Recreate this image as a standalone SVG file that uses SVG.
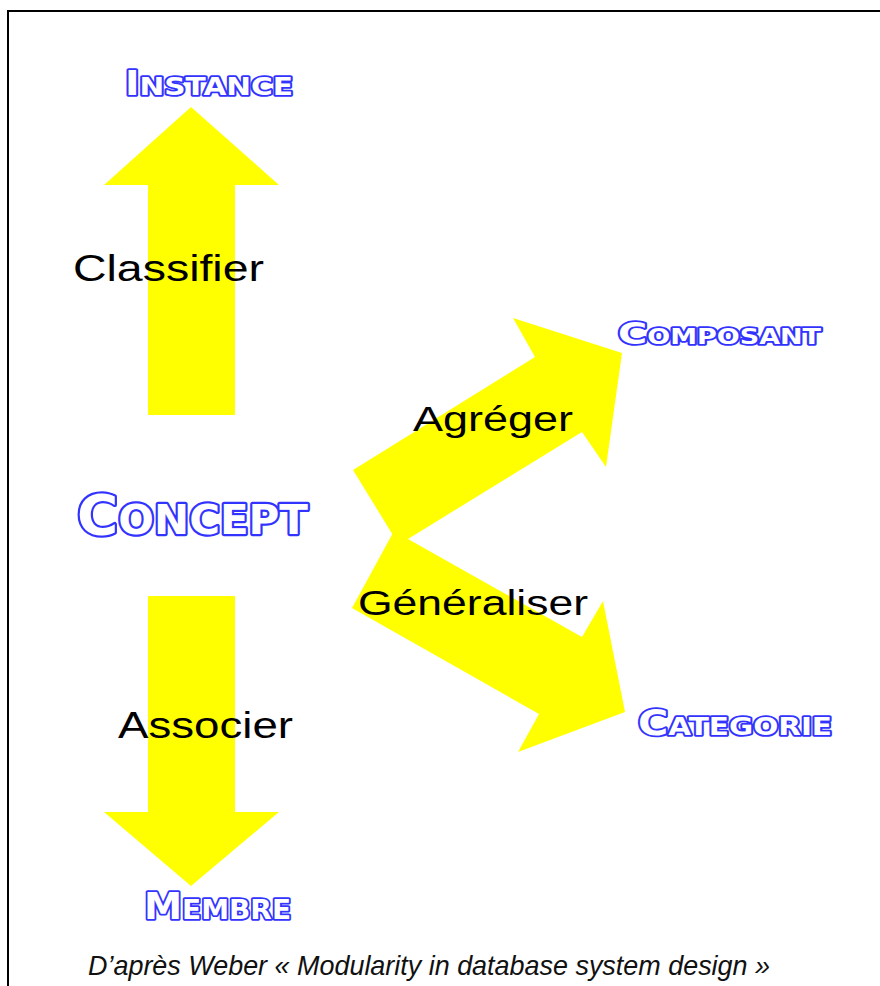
<svg xmlns="http://www.w3.org/2000/svg" width="880" height="986" viewBox="0 0 880 986">
<style>
.arrow{fill:#ffff00;stroke:none}
.title{font-family:"DejaVu Sans","Liberation Sans",sans-serif;font-weight:bold;fill:#ffffff;stroke:#3333ff;stroke-width:3.6;stroke-linejoin:round;paint-order:stroke fill}
.big{stroke-width:4.4}
.label{font-family:"Liberation Sans","DejaVu Sans",sans-serif;fill:#000000}
.foot{font-family:"Liberation Sans","DejaVu Sans",sans-serif;font-style:italic;font-size:28px;fill:#111111}
</style>
<rect x="8" y="11" width="900" height="1000" fill="#ffffff" stroke="#000000" stroke-width="2"/>
<g id="connectors">
  <polygon id="arrow-classifier" class="arrow" points="148,415 235,415 235,185 279,185 191,107 104,185 148,185"/>
  <polygon id="arrow-associer" class="arrow" points="148,596 235,596 235,812 279,812 191,886 104,812 148,812"/>
  <polygon id="arrow-agreger" class="arrow" points="353,470 399,545 408,539 582,432 606,467 622,353 513,318 535,357"/>
  <polygon id="arrow-generaliser" class="arrow" points="394,531 408,539 582,637 603,601 625,712 518,752 539,714 352,608"/>
</g>
<g id="label-classifier"><text class="label" x="73" y="281" font-size="36" textLength="191" lengthAdjust="spacingAndGlyphs">Classifier</text></g>
<g id="label-associer"><text class="label" x="118" y="738" font-size="36" textLength="175" lengthAdjust="spacingAndGlyphs">Associer</text></g>
<g id="label-agreger"><text class="label" x="413" y="431" font-size="35" textLength="160" lengthAdjust="spacingAndGlyphs">Agréger</text></g>
<g id="label-generaliser"><text class="label" x="358" y="615" font-size="35" textLength="230" lengthAdjust="spacingAndGlyphs">Généraliser</text></g>
<g id="node-instance"><text class="title" x="125" y="95" textLength="168" lengthAdjust="spacingAndGlyphs"><tspan font-size="33">I</tspan><tspan font-size="25">NSTANCE</tspan></text></g>
<g id="node-concept"><text class="title big" x="77" y="534" textLength="231" lengthAdjust="spacingAndGlyphs"><tspan font-size="55">C</tspan><tspan font-size="41">ONCEPT</tspan></text></g>
<g id="node-composant"><text class="title" x="618" y="344" textLength="203" lengthAdjust="spacingAndGlyphs"><tspan font-size="31">C</tspan><tspan font-size="21">OMPOSANT</tspan></text></g>
<g id="node-categorie"><text class="title" x="638" y="735" textLength="194" lengthAdjust="spacingAndGlyphs"><tspan font-size="35">C</tspan><tspan font-size="25">ATEGORIE</tspan></text></g>
<g id="node-membre"><text class="title" x="144" y="919" textLength="147" lengthAdjust="spacingAndGlyphs"><tspan font-size="37">M</tspan><tspan font-size="27">EMBRE</tspan></text></g>
<g id="footer"><text class="foot" x="88" y="975" textLength="682" lengthAdjust="spacingAndGlyphs">D’après Weber « Modularity in database system design »</text></g>
</svg>
